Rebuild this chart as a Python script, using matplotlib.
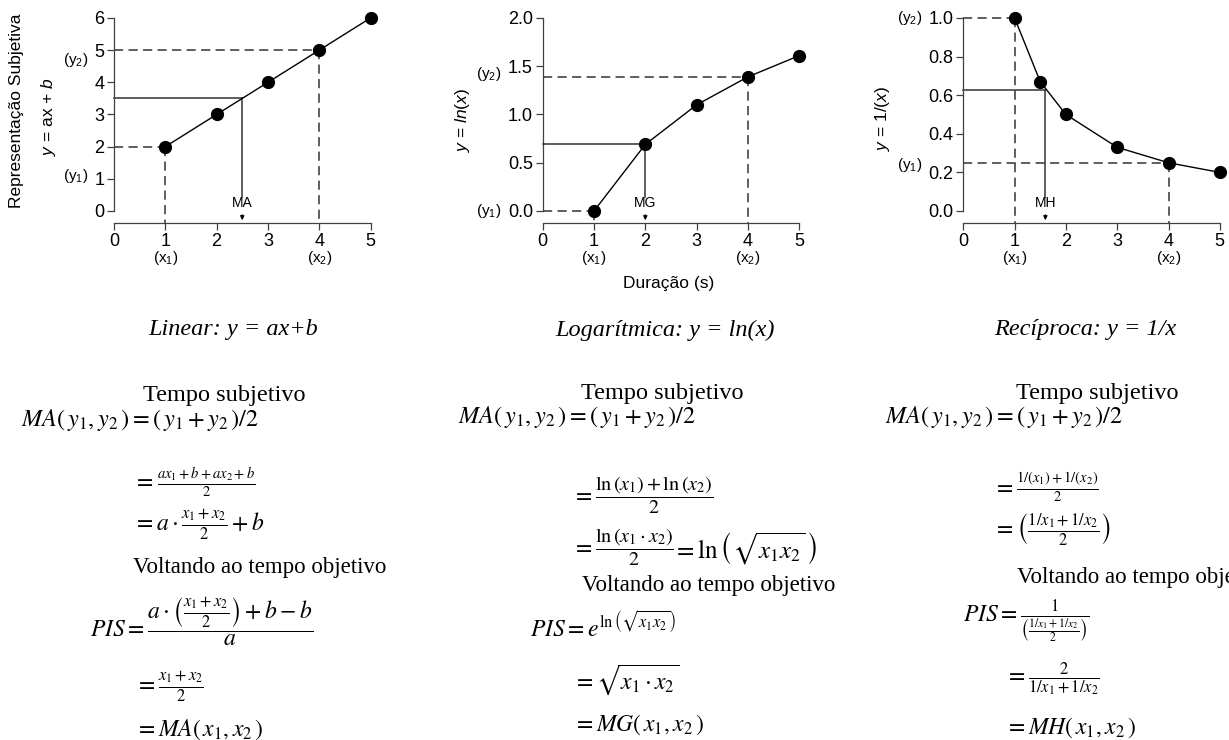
import numpy as np
import matplotlib
matplotlib.use('Agg')
import matplotlib.pyplot as plt

plt.rcParams['font.family'] = ['Liberation Sans', 'DejaVu Sans']
plt.rcParams['mathtext.fontset'] = 'custom'
plt.rcParams['mathtext.rm'] = 'Liberation Sans'
plt.rcParams['mathtext.it'] = 'Liberation Sans:italic'
plt.rcParams['mathtext.bf'] = 'Liberation Sans:bold'

# Dados dos tres paineis
x_lin = [1, 2, 3, 4, 5]
y_lin = [2, 3, 4, 5, 6]
x_log = [1, 2, 3, 4, 5]
y_log = [0.0, 0.69, 1.10, 1.39, 1.61]
x_rec = [1, 1.5, 2, 3, 4, 5]
y_rec = [1.0, 0.67, 0.50, 0.33, 0.25, 0.20]

x1, x2 = 1, 4
media_lin = (2.5, 3.5)
media_log = (2.0, 0.69)
media_rec = (1.6, 0.625)

yticks_lin = [0, 1, 2, 3, 4, 5, 6]
yticks_log = [0.0, 0.5, 1.0, 1.5, 2.0]
yticks_rec = [0.0, 0.2, 0.4, 0.6, 0.8, 1.0]
xticks = [0, 1, 2, 3, 4, 5]

W, H = 1229, 740
fig = plt.figure(figsize=(W / 100, H / 100), dpi=100)

TRACO = (6, 3.5)
COR_EIXO = '#404040'


def painel(left, xs, ys, media, nome, yticks, fmt, ymax, y1pos, y2pos, ylab_dx):
    ax = fig.add_axes([left / W, 1 - 223 / H, 256.5 / W, 205 / H])
    ybot = -12 / (193 / ymax)
    ax.set_xlim(0, 5)
    ax.set_ylim(ybot, ymax)
    for s in ['top', 'right']:
        ax.spines[s].set_visible(False)
    ax.spines['left'].set_bounds(0, ymax)
    ax.spines['bottom'].set_bounds(0, 5)
    for s in ['left', 'bottom']:
        ax.spines[s].set_color(COR_EIXO)
        ax.spines[s].set_linewidth(0.9)
    ax.set_xticks(xticks)
    ax.set_yticks(yticks)
    ax.set_yticklabels([fmt.format(v) for v in yticks])
    ax.tick_params(length=5, width=0.9, color=COR_EIXO, labelsize=13, pad=2)

    # curva
    ax.plot(xs, ys, color='k', lw=1.0, marker='o', ms=8.5, clip_on=False, zorder=5)

    # linhas tracejadas dos pontos x1 e x2
    ya = ys[xs.index(x1)]
    yb = ys[xs.index(x2)]
    for xv, yv in [(x1, ya), (x2, yb)]:
        ax.plot([0, xv], [yv, yv], color='#333333', lw=1.1, dashes=TRACO, clip_on=False)
        ax.plot([xv, xv], [yv, ybot], color='#333333', lw=1.1, dashes=TRACO, clip_on=False)

    # media
    mx, my = media
    ax.plot([0, mx], [my, my], color='#333333', lw=1.1, clip_on=False)
    ax.plot([mx, mx], [my, ymax * 0.07], color='#333333', lw=1.1, clip_on=False)
    ax.text(mx, ymax * 0.04, nome, ha='center', va='center', fontsize=10)
    ax.annotate('', xy=(mx, ybot), xytext=(0, 8), textcoords='offset points',
                arrowprops=dict(arrowstyle='-|>', lw=0.8, color='k', mutation_scale=6))

    # rotulos (x1), (x2), (y1), (y2)
    tx = ax.get_xaxis_transform()
    ax.text(x1, -0.17, '(x$_1$)', transform=tx, ha='center', va='center', fontsize=11)
    ax.text(x2, -0.17, '(x$_2$)', transform=tx, ha='center', va='center', fontsize=11)
    ty = ax.get_yaxis_transform()
    ax.text(ylab_dx, y1pos, '(y$_1$)', transform=ty, ha='right', va='center', fontsize=11)
    ax.text(ylab_dx, y2pos, '(y$_2$)', transform=ty, ha='right', va='center', fontsize=11)
    return ax


ax1 = painel(114, x_lin, y_lin, media_lin, 'MA', yticks_lin, '{:.0f}', 6, 1.1, 4.7, -0.10)
ax2 = painel(542.7, x_log, y_log, media_log, 'MG', yticks_log, '{:.1f}', 2.0, 0.0, 1.42, -0.16)
ax3 = painel(963.3, x_rec, y_rec, media_rec, 'MH', yticks_rec, '{:.1f}', 1.0, 0.24, 1.0, -0.16)

ax2.text(0.49, -0.293, 'Duração (s)', transform=ax2.transAxes, ha='center', va='center', fontsize=12.5)

# rotulos dos eixos y
fig.text(17 / W, 1 - 111 / H, 'Representação Subjetiva', rotation=90, ha='center', va='center', fontsize=12.5)
fig.text(48 / W, 1 - 117 / H, '$y$ = ax + $b$', rotation=90, ha='center', va='center', fontsize=12.5)
fig.text(462 / W, 1 - 120 / H, '$y$ = $ln(x)$', rotation=90, ha='center', va='center', fontsize=12.5)
fig.text(883 / W, 1 - 118 / H, '$y$ = $1/(x)$', rotation=90, ha='center', va='center', fontsize=12.5)

# titulos
serif = ['Liberation Serif', 'DejaVu Serif']
fig.text(233 / W, 1 - 330 / H, 'Linear: y = ax+b', family=serif, style='italic',
         ha='center', va='center', fontsize=17.5)
fig.text(665 / W, 1 - 330 / H, 'Logarítmica: y = ln(x)', family=serif, style='italic',
         ha='center', va='center', fontsize=17.5)
fig.text(1085 / W, 1 - 330 / H, 'Recíproca: y = 1/x', family=serif, style='italic',
         ha='center', va='center', fontsize=17.5)


def escreve(x, y, s, ha='left', size=17):
    fig.text(x / W, 1 - y / H, s, family=serif, math_fontfamily='stix',
             ha=ha, va='center', fontsize=size)


ma_y = r'$MA\left(\,y_1,y_2\,\right)=\left(\,y_1+y_2\,\right)/2$'

# bloco linear
escreve(224, 396, 'Tempo subjetivo', ha='center', size=17.5)
escreve(21, 420, ma_y, size=17.5)
escreve(133, 482, r'$=$')
escreve(157, 482, r'$\frac{ax_1+b+ax_2+b}{2}$', size=15)
escreve(133, 525, r'$=a\cdot\frac{x_1+x_2}{2}+b$')
escreve(133, 567, 'Voltando ao tempo objetivo', size=16.5)
escreve(90, 622, r'$PIS=\dfrac{a\cdot\left(\frac{x_1+x_2}{2}\right)+b-b}{a}$')
escreve(135, 687, r'$=\frac{x_1+x_2}{2}$')
escreve(135, 730, r'$=MA\left(\,x_1,x_2\,\right)$')

# bloco logaritmico
escreve(662, 394, 'Tempo subjetivo', ha='center', size=17.5)
escreve(458, 417, ma_y, size=17.5)
escreve(572, 495, r'$=$')
escreve(595, 495, r'$\dfrac{\ln\left(x_1\right)+\ln\left(x_2\right)}{2}$', size=14.5)
escreve(572, 547, r'$=$')
escreve(595, 547, r'$\dfrac{\ln\left(x_1\cdot x_2\right)}{2}$', size=14.5)
escreve(673, 549, r'$=\ln\left(\sqrt{x_1x_2}\,\right)$', size=18)
escreve(582, 585, 'Voltando ao tempo objetivo', size=16.5)
escreve(530, 627, r'$PIS=e^{\ln\left(\sqrt{x_1x_2}\right)}$')
escreve(573, 680, r'$=\sqrt{x_1\cdot x_2}$')
escreve(573, 725, r'$=MG\left(\,x_1,x_2\,\right)$')

# bloco reciproco
escreve(1097, 394, 'Tempo subjetivo', ha='center', size=17.5)
escreve(885, 417, ma_y, size=17.5)
escreve(993, 487, r'$=$')
escreve(1016, 487, r'$\frac{1/(x_1)+1/(x_2)}{2}$', size=15)
escreve(993, 530, r'$=\left(\frac{1/x_1+1/x_2}{2}\right)$')
escreve(1017, 577, 'Voltando ao tempo objetivo', size=16.5)
escreve(963, 622, r'$PIS=\frac{1}{\left(\frac{1/x_1+1/x_2}{2}\right)}$')
escreve(1005, 679, r'$=\frac{2}{1/x_1+1/x_2}$')
escreve(1005, 728, r'$=MH\left(\,x_1,x_2\,\right)$')

fig.savefig('out.png', dpi=100)
